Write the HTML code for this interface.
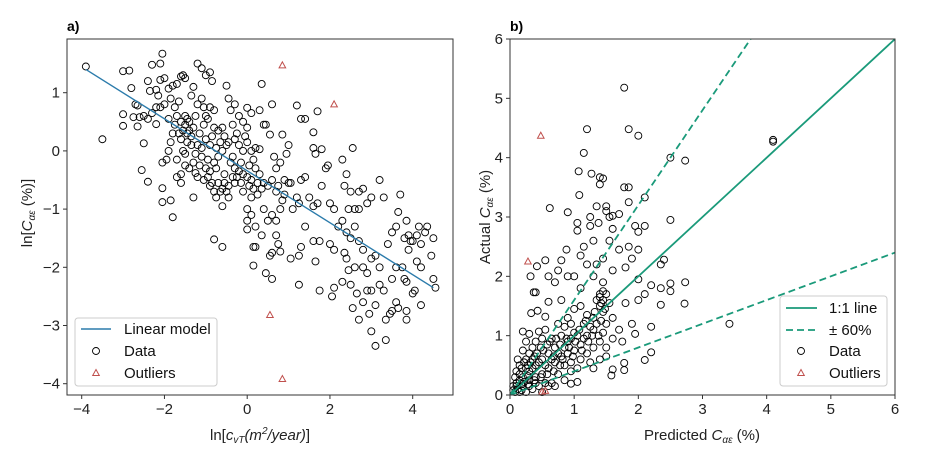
<!DOCTYPE html>
<html><head><meta charset="utf-8"><style>
body{margin:0;background:#fff;}
svg{display:block;font-family:"Liberation Sans",sans-serif;}
</style></head><body>
<svg id="fig" width="928" height="463" viewBox="0 0 928 463">
<g id="pa"></g>
<g id="pb"></g>
</svg>
<script>
const aData=[[-3.9,1.45],[-3.5,0.2],[-3,1.37],[-2.85,1.38],[-3,0.63],[-3,0.43],[-2.8,1.08],[-2.7,0.8],[-2.65,0.78],[-2.75,0.58],[-2.6,0.58],[-2.5,0.6],[-2.65,0.42],[-2.5,0.13],[-2.55,-0.33],[-2.4,-0.53],[-2.4,1.2],[-2.3,1.48],[-2.35,1.03],[-2.2,1.05],[-2.15,0.95],[-2.1,1.5],[-2.05,1.67],[-2.1,1.22],[-2.3,0.65],[-2.2,0.46],[-2.1,0.75],[-2,1.25],[-2,0.8],[-1.9,1.07],[-1.8,1.12],[-1.7,1.15],[-1.6,1.28],[-1.55,1.3],[-1.5,1.25],[-2.05,-0.2],[-2.05,-0.64],[-2.05,-0.88],[-1.85,-0.85],[-1.8,-1.14],[-1.9,0],[-1.95,-0.15],[-1.8,0.3],[-1.7,0.6],[-1.6,0.5],[-1.6,0.2],[-1.5,0.45],[-1.45,0.55],[-1.4,0.35],[-1.55,0],[-1.6,-0.4],[-1.7,-0.45],[-1.6,-0.55],[-1.5,-0.25],[-1.3,-0.8],[-1.3,-0.2],[-1.25,-0.38],[-1.2,1.5],[-1.1,1.42],[-1,1.3],[-0.9,1.35],[-0.85,1.2],[-1.2,0.8],[-1.1,0.9],[-1,0.6],[-0.9,0.75],[-0.8,0.7],[-1.3,1.1],[-1.35,0.95],[-1.25,0.6],[-1.15,0.3],[-1,0.2],[-0.9,0.1],[-0.8,0.4],[-0.7,0.35],[-0.6,0.4],[-1.1,-0.1],[-1,-0.3],[-0.9,-0.35],[-0.8,-0.2],[-0.7,-0.1],[-0.6,0],[-0.5,0.1],[-0.9,-0.6],[-0.8,-0.7],[-0.7,-0.55],[-0.6,-0.65],[-0.5,-0.7],[-0.45,-0.8],[-0.6,-0.95],[-0.8,-1.52],[-0.6,-1.65],[-0.5,1.12],[-0.45,0.9],[-0.4,0.7],[-0.3,0.8],[-0.2,0.6],[-0.1,0.5],[0,0.74],[0.1,0.65],[0,0.4],[-0.3,0.2],[-0.2,0.1],[-0.1,0],[0,0.15],[0.1,0],[0.2,0.05],[0.3,0.03],[-0.4,-0.2],[-0.3,-0.3],[-0.2,-0.35],[-0.1,-0.4],[0,-0.45],[0.1,-0.5],[0.2,-0.3],[0.3,-0.4],[0.4,-0.55],[0.5,-0.6],[-0.3,-0.55],[-0.1,-0.7],[0.1,-0.8],[0,-1],[0,-1.2],[0.1,-1.1],[0.2,-1.3],[0,-1.35],[0.15,-1.65],[0.2,-1.65],[0.15,-1.97],[0.35,1.15],[0.4,0.45],[0.45,0.45],[0.6,0.8],[0.3,0.7],[0.55,0.28],[0.65,-0.1],[0.7,-0.3],[0.8,-0.2],[0.6,-0.5],[0.75,-0.6],[0.7,-0.7],[0.85,-0.85],[0.9,-0.75],[0.8,-1],[0.6,-1.1],[0.7,-1.2],[0.5,-1.2],[0.4,-1],[0.35,-1.45],[0.55,-1.8],[0.7,-1.45],[0.75,-1.6],[0.8,-1.73],[0.6,-1.75],[0.45,-2.1],[0.6,-2.2],[0.85,0.28],[0.95,-0.05],[1,0.1],[0.9,-0.5],[1,-0.55],[1.05,-0.55],[1.1,-1],[1.2,-0.8],[1.25,-0.9],[1.3,-0.5],[1.4,-0.45],[1.25,-1.8],[1.3,-1.65],[1.05,-1.85],[1.25,-2.3],[1.2,0.78],[1.3,0.55],[1.4,0.55],[1.6,0.32],[1.6,0.05],[1.65,-0.05],[1.8,0.03],[1.7,0.68],[1.5,-0.8],[1.6,-0.95],[1.7,-0.9],[1.8,-0.6],[1.9,-0.3],[1.95,-0.25],[2,-0.9],[2.1,-1],[1.4,-1.3],[1.6,-1.55],[1.75,-1.55],[1.65,-1.9],[1.75,-2.4],[2.1,-2.35],[2.05,-2.5],[2,-1.6],[2.1,-1.7],[2.2,-1.3],[2.3,-1.2],[2.35,-0.6],[2.4,-0.4],[2.5,-0.7],[2.55,0.05],[2.3,-0.15],[2.7,-0.7],[2.8,-0.65],[2.9,-0.9],[3,-0.8],[3.2,-0.5],[3.3,-0.8],[2.45,-1],[2.6,-1],[2.7,-1],[2.4,-1.4],[2.5,-1.5],[2.6,-1.3],[2.7,-1.55],[2.8,-1.7],[2.35,-1.75],[2.4,-1.85],[2.45,-2.05],[2.3,-2.25],[2.6,-2],[2.5,-2.3],[2.55,-2.7],[2.65,-2.45],[2.8,-2],[2.9,-2.1],[3,-1.85],[3.1,-1.8],[3.2,-2],[2.9,-2.4],[3,-2.4],[3.1,-2.65],[3.2,-2.3],[3.3,-2.4],[3.35,-2.9],[3.45,-2.8],[3.5,-2.75],[2.95,-2.8],[3,-3.1],[3.1,-3.35],[3.35,-3.25],[2.8,-2.6],[2.7,-2.9],[3.5,-2.2],[3.6,-2],[3.4,-1.6],[3.5,-1.4],[3.6,-1.3],[3.65,-1.05],[3.7,-0.75],[3.8,-1.5],[3.85,-1.2],[3.9,-1.45],[3.9,-1.7],[3.95,-1.55],[4,-1.55],[4.1,-1.45],[4.15,-1.3],[4.2,-1.6],[4.35,-1.3],[4.3,-1.4],[4.5,-1.5],[4.45,-1.8],[4.1,-1.9],[4.2,-2],[4.5,-2.2],[4.55,-2.35],[4.2,-2.65],[3.8,-2.2],[3.85,-2.25],[3.85,-2.75],[3.85,-2.9],[3.75,-2],[3.6,-2.6],[3.65,-2.7],[4,-2.45],[4.05,-2.4],[-1.45,0.15],[-1.35,0.25],[-1.2,0.1],[-1.1,0.05],[-1.3,0.4],[-1.15,-0.25],[-0.95,-0.15],[-0.75,-0.3],[-0.55,-0.4],[-0.35,-0.1],[-0.15,-0.2],[0.05,-0.25],[0.25,-0.55],[-1.75,0.75],[-1.9,0.55],[-1.65,0.85],[-2.2,0.75],[-2.4,0.55],[-1.05,0.45],[-0.65,0.15],[-0.25,0.3],[-1.55,0.35],[-1.5,0.6],[-1.4,0.5],[-1.45,0.3],[-1.35,0.1],[-1.25,-0.05],[-1.5,-0.05],[-1.4,-0.3],[-1.2,-0.45],[-1.05,-0.5],[-0.95,-0.45],[-0.85,-0.55],[-0.75,-0.8],[-0.65,-0.7],[-0.55,-0.55],[-0.45,-0.6],[-0.35,-0.45],[-0.25,-0.45],[-0.15,-0.55],[0.05,-0.6],[0.15,-0.65],[0.25,-0.75],[0.35,-0.65],[-1.85,0.9],[-1.75,0.45],[-1.65,0.3],[-1.85,0.15],[-1.7,-0.15],[-1.05,0.75],[-0.95,0.55],[-0.85,0.25],[-0.75,0.05],[-0.55,0.25],[-0.45,0.15],[-0.35,0.45],[-0.05,0.25],[0.15,-0.15]];
const aOut=[[0.85,1.47],[2.1,0.8],[0.55,-2.82],[0.85,-3.92]];
const aFit=[[-3.9,1.4],[4.5,-2.35]];
const aXTicks=[-4,-2,0,2,4];
const aYTicks=[1,0,-1,-2,-3,-4];
const bData=[[1.78,5.18],[1.2,4.48],[1.85,4.48],[2,4.37],[1.15,4.08],[2.5,4],[2.73,3.95],[4.1,4.3],[4.1,4.27],[1.07,3.77],[1.27,3.73],[1.4,3.67],[1.45,3.65],[1.4,3.55],[1.08,3.37],[1.78,3.5],[1.85,3.5],[0.62,3.15],[1.85,3.25],[2.1,3.33],[0.9,3.08],[1.35,3.18],[1.5,3.18],[1.5,3.1],[1.55,3],[1.6,3.02],[1.7,3.05],[1.25,3],[1.05,2.9],[1.05,2.77],[1.25,2.85],[1.38,2.9],[1.6,2.8],[1.95,2.85],[2,2.75],[2.1,2.85],[2.5,2.95],[0.88,2.45],[1.15,2.5],[1.3,2.6],[1.55,2.6],[1.7,2.45],[1.85,2.5],[2,2.45],[1.45,2.3],[0.55,2.27],[0.8,2.27],[1.1,2.35],[1.2,2.2],[1.35,2.2],[1.6,2.1],[1.8,2.15],[1.9,2.3],[2.35,2.2],[2.4,2.28],[0.42,2.17],[0.75,2.1],[0.9,2],[0.32,2],[0.6,2],[0.7,1.9],[1,2],[1.3,2],[1.45,1.9],[2,1.95],[2.2,1.85],[2.35,1.8],[2.5,1.88],[2.73,1.9],[2.5,1.75],[2.35,1.52],[2.72,1.54],[0.37,1.73],[0.4,1.73],[0.6,1.57],[0.8,1.6],[1.1,1.8],[1.4,1.65],[1.5,1.7],[1.8,1.55],[2,1.6],[2.1,1.7],[3.42,1.2],[2.2,1.15],[2.2,0.72],[2.1,0.59],[1.9,1.2],[1.95,1.03],[1.75,0.9],[1.78,0.54],[1.78,0.42],[1.6,0.43],[1.58,0.33],[1.3,0.45],[1.05,0.22],[0.95,0.19],[0.33,1.38],[0.43,1.42],[0.55,1.32],[0.2,1.07],[0.3,1.03],[0.45,1.07],[0.5,0.95],[0.75,1.2],[0.9,1.3],[1,1.45],[1.1,1.5],[1.2,1.35],[1.3,1.3],[1.4,1.5],[1.45,1.4],[1.5,1.2],[1.6,1.3],[1.7,1.1],[1.6,0.95],[1.5,0.8],[1.4,0.9],[1.3,1.1],[1.2,1],[1.1,0.85],[1,1.05],[0.9,0.9],[0.8,1],[0.7,0.8],[0.6,0.7],[0.5,0.6],[0.4,0.5],[0.3,0.4],[0.2,0.3],[0.15,0.25],[0.1,0.15],[0.05,0.08],[0.2,0.15],[0.3,0.25],[0.4,0.3],[0.5,0.35],[0.6,0.45],[0.7,0.55],[0.8,0.65],[0.9,0.7],[1,0.75],[1.1,0.6],[1.2,0.7],[1.3,0.8],[0.75,0.35],[0.85,0.5],[0.95,0.55],[0.65,0.2],[0.7,0.15],[0.55,0.2],[0.45,0.15],[0.35,0.1],[0.25,0.05],[0.15,0.05],[0.1,0.4],[0.15,0.5],[0.25,0.6],[0.3,0.7],[0.35,0.8],[0.4,0.9],[0.2,0.75],[0.25,0.9],[0.55,1.1],[0.65,0.95],[0.85,1.15],[0.95,1.2],[1.15,1.2],[1.25,1.15],[1.35,1.2],[1.45,1.05],[1.55,1.55],[1.4,1.7],[1.45,1.75],[1.35,1.6],[0.1,0.2],[0.08,0.3],[0.12,0.1],[0.18,0.18],[0.22,0.22],[0.28,0.32],[0.35,0.45],[0.45,0.55],[0.55,0.5],[0.65,0.6],[0.75,0.7],[0.85,0.8],[0.95,0.95],[1.05,1],[1.15,0.95],[1.25,0.55],[1.4,0.6],[1.5,0.65],[0.95,0.4],[1.05,0.45],[0.85,0.25],[0.6,0.15],[0.5,0.05],[0.3,0.15],[0.4,0.2],[0.25,0.45],[0.35,0.6],[0.15,0.35],[0.18,0.45],[0.22,0.55],[0.12,0.6],[0.28,0.5],[0.32,0.55],[0.38,0.65],[0.42,0.7],[0.48,0.8],[0.52,0.75],[0.58,0.85],[0.62,0.9],[0.68,0.65],[0.72,0.95],[0.78,0.85],[0.82,0.6],[0.88,0.95],[0.92,0.8],[0.98,0.65],[1.02,0.9],[1.08,1.1],[1.12,0.75],[1.18,1.25],[1.22,0.9],[1.28,1.0],[1.32,1.4],[1.38,1.0],[1.42,1.25],[1.42,1.55],[1.45,1.6],[1.48,1.45],[0.08,0.05],[0.05,0.15],[0.18,0.08],[0.28,0.18],[0.38,0.25],[0.48,0.3],[0.58,0.35],[0.68,0.4],[0.78,0.5]];
const bOut=[[0.48,4.37],[0.28,2.25],[0.5,0.05],[0.55,0.07]];
const bTicks=[0,1,2,3,4,5,6];
const bandFactors=[1.6,0.4];

const NS='http://www.w3.org/2000/svg';
function mk(parent,tag,attrs,text){const e=document.createElementNS(NS,tag);for(const k in attrs)e.setAttribute(k,attrs[k]);if(text!==undefined)e.textContent=text;parent.appendChild(e);return e;}
function lin(d0,d1,r0,r1){return v=>r0+(v-d0)*(r1-r0)/(d1-d0);}

// Panel a
const pa=document.getElementById('pa');
const ax=lin(-4,4,81.7,412.7), ay=lin(1,-4,92.7,383.7);
const L1=67,R1=453,T=39,B=395;
let e;
e=mk(pa,'text',{x:67,y:31,'font-size':14,'font-weight':'bold'},'a)');

for(const t of aXTicks){mk(pa,'line',{x1:ax(t),x2:ax(t),y1:B,y2:B+4,stroke:'#333'});
e=mk(pa,'text',{x:ax(t),y:B+19,'font-size':15,'text-anchor':'middle',fill:'#222'},t<0?'\u2212'+(-t):String(t));
}
for(const t of aYTicks){mk(pa,'line',{x1:L1-4,x2:L1,y1:ay(t),y2:ay(t),stroke:'#333'});
e=mk(pa,'text',{x:L1-7,y:ay(t)+5,'font-size':15,'text-anchor':'end',fill:'#222'},t<0?'\u2212'+(-t):String(t));
}
for(const p of aData){e=mk(pa,'circle',{cx:ax(p[0]),cy:ay(p[1]),r:3.5,fill:'none',stroke:'#000','stroke-width':0.9});
}
e=mk(pa,'line',{x1:ax(aFit[0][0]),y1:ay(aFit[0][1]),x2:ax(aFit[1][0]),y2:ay(aFit[1][1]),stroke:'#2b7bab','stroke-width':1.4});

function tri(g,x,y){return mk(g,'path',{d:`M${x},${y-3.5}L${x+3.3},${y+2.5}L${x-3.3},${y+2.5}Z`,fill:'none',stroke:'#c0504d','stroke-width':1});}
for(const p of aOut){e=tri(pa,ax(p[0]),ay(p[1]));
}
e=mk(pa,'rect',{x:L1,y:T,width:R1-L1,height:B-T,fill:'none',stroke:'#333','stroke-width':1});

e=mk(pa,'text',{x:260,y:440,'font-size':15,'text-anchor':'middle',fill:'#222'});
e.innerHTML='ln[<tspan font-style="italic">c<tspan font-size="10" dy="3">vT</tspan><tspan dy="-3">(m</tspan><tspan font-size="10" dy="-6">2</tspan><tspan dy="6">/year)</tspan></tspan>]';

e=mk(pa,'text',{x:0,y:0,'font-size':15,'text-anchor':'middle',fill:'#222',transform:'translate(32,213) rotate(-90)'});
e.innerHTML='ln[<tspan font-style="italic">C<tspan font-size="10" dy="3">αε</tspan></tspan><tspan dy="-3"> (%)]</tspan>';

const lga=mk(pa,'g',{});
mk(lga,'rect',{x:75,y:318,width:142,height:68,rx:3,fill:'#fff',stroke:'#ccc'});
mk(lga,'line',{x1:81,x2:111,y1:329,y2:329,stroke:'#2b7bab','stroke-width':1.4});
mk(lga,'text',{x:124,y:334,'font-size':15,fill:'#111'},'Linear model');
mk(lga,'circle',{cx:96,cy:351,r:3.5,fill:'none',stroke:'#000','stroke-width':0.9});
mk(lga,'text',{x:124,y:356,'font-size':15,fill:'#111'},'Data');
tri(lga,96,373);
mk(lga,'text',{x:124,y:378,'font-size':15,fill:'#111'},'Outliers');

// Panel b
const pb=document.getElementById('pb');
const L2=510,R2=895;
const bx=lin(0,6,L2,R2), by=lin(0,6,B,T);
e=mk(pb,'text',{x:510,y:31,'font-size':14,'font-weight':'bold'},'b)');

for(const t of bTicks){mk(pb,'line',{x1:bx(t),x2:bx(t),y1:B,y2:B+4,stroke:'#333'});
e=mk(pb,'text',{x:bx(t),y:B+19,'font-size':15,'text-anchor':'middle',fill:'#222'},String(t));

mk(pb,'line',{x1:L2-4,x2:L2,y1:by(t),y2:by(t),stroke:'#333'});
e=mk(pb,'text',{x:L2-7,y:by(t)+5,'font-size':15,'text-anchor':'end',fill:'#222'},String(t));
}
for(const p of bData){e=mk(pb,'circle',{cx:bx(p[0]),cy:by(p[1]),r:3.5,fill:'none',stroke:'#000','stroke-width':0.9});
}
const cp=mk(pb,'clipPath',{id:'cb'});mk(cp,'rect',{x:L2,y:T,width:R2-L2,height:B-T});
e=mk(pb,'line',{x1:bx(0),y1:by(0),x2:bx(6),y2:by(6),stroke:'#1a9a7a','stroke-width':1.8,'clip-path':'url(#cb)'});

for(const f of bandFactors){e=mk(pb,'line',{x1:bx(0),y1:by(0),x2:bx(6),y2:by(6*f),stroke:'#1a9a7a','stroke-width':1.8,'stroke-dasharray':'7,4','clip-path':'url(#cb)'});
}
for(const p of bOut){e=tri(pb,bx(p[0]),by(p[1]));
}
e=mk(pb,'rect',{x:L2,y:T,width:R2-L2,height:B-T,fill:'none',stroke:'#333','stroke-width':1});

e=mk(pb,'text',{x:702,y:440,'font-size':15,'text-anchor':'middle',fill:'#222'});
e.innerHTML='Predicted <tspan font-style="italic">C<tspan font-size="10" dy="3">αε</tspan></tspan><tspan dy="-3"> (%)</tspan>';

e=mk(pb,'text',{x:0,y:0,'font-size':15,'text-anchor':'middle',fill:'#222',transform:'translate(490,217) rotate(-90)'});
e.innerHTML='Actual <tspan font-style="italic">C<tspan font-size="10" dy="3">αε</tspan></tspan><tspan dy="-3"> (%)</tspan>';

const lgb=mk(pb,'g',{});
mk(lgb,'rect',{x:780,y:296,width:107,height:90,rx:3,fill:'#fff',stroke:'#ccc'});
mk(lgb,'line',{x1:786,x2:817,y1:308,y2:308,stroke:'#1a9a7a','stroke-width':1.8});
mk(lgb,'text',{x:829,y:313,'font-size':15,fill:'#111'},'1:1 line');
mk(lgb,'line',{x1:786,x2:817,y1:330,y2:330,stroke:'#1a9a7a','stroke-width':1.8,'stroke-dasharray':'7,4'});
mk(lgb,'text',{x:829,y:335,'font-size':15,fill:'#111'},'± 60%');
mk(lgb,'circle',{cx:801,cy:351,r:3.5,fill:'none',stroke:'#000','stroke-width':0.9});
mk(lgb,'text',{x:829,y:356,'font-size':15,fill:'#111'},'Data');
tri(lgb,801,373);
mk(lgb,'text',{x:829,y:378,'font-size':15,fill:'#111'},'Outliers');
</script>
</body></html>
